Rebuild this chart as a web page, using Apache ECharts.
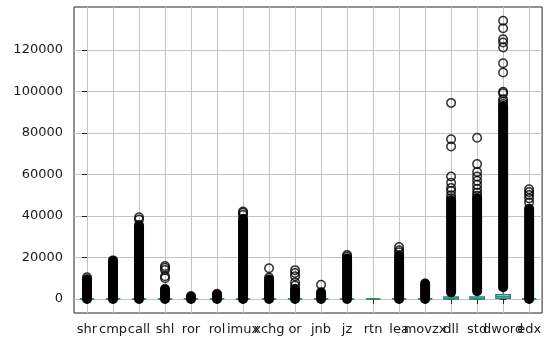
<!DOCTYPE html>
<html><head><meta charset="utf-8">
<script src="https://cdn.jsdelivr.net/npm/echarts@6/dist/echarts.min.js"></script>
<style>html,body{margin:0;padding:0;background:#fff}#c{width:544px;height:339px}</style>
</head><body><div id="c"></div><script>
const categories = ['shr','cmp','call','shl','ror','rol','imux','xchg','or','jnb','jz','rtn','lea','movzx','dll','std','dword','edx'];
const yTicks = [0, 20000, 40000, 60000, 80000, 100000, 120000];
// [lower whisker, Q1, median, Q3, upper whisker]
const boxStats = [
  [0,0,0,0,0],[0,0,0,0,0],[0,0,0,0,0],[0,0,0,0,0],[0,0,0,0,0],[0,0,0,0,0],
  [0,0,0,0,0],[0,0,0,0,0],[0,0,0,0,0],[0,0,0,0,0],[0,0,0,0,0],[0,0,0,0,0],
  [0,0,0,0,0],[0,0,0,0,0],
  [0,0,300,900,2200],[0,0,200,1000,2500],[0,300,1100,2100,4800],[0,0,0,0,0]
];
// dense runs of overlapping outlier circles (low, high) per category
const denseLow  = [0,0,0,0,0,0,0,0,0,0,0,null,0,0,3200,3800,5700,0];
const denseHigh = [9500,18600,35500,4800,900,2000,38500,9400,4800,3200,19500,null,21000,7500,47500,48500,93000,43500];
// distinct outlier circles per category
const outliers = [
  [10500],
  [],
  [38300, 39400],
  [15900, 15000, 14000, 11000, 10000],
  [1400],
  [2500],
  [40500, 41500, 42200],
  [10300, 14800],
  [13900, 12500, 11000, 8000, 6500],
  [6900],
  [20500, 21200],
  [],
  [22500, 23500, 25000],
  [],
  [94500, 77000, 73500, 59000, 56000, 53500, 52000, 50000, 48500],
  [77700, 65000, 61200, 59000, 57000, 55000, 53000, 51200, 49800],
  [134100, 130500, 125200, 123600, 121200, 113600, 109100, 99900, 99100, 96200, 95000, 94000],
  [52900, 51500, 50100, 48500, 46500]
];

const boxData = boxStats.map((s, i) => [i].concat(s));
const denseData = [];
denseLow.forEach((lo, i) => { if (lo !== null) denseData.push([i, lo, denseHigh[i]]); });
const outlierData = [];
outliers.forEach((arr, i) => arr.forEach(v => outlierData.push([i, v])));
const catPositions = categories.map((c, i) => i);

const chart = echarts.init(document.getElementById('c'), null, {renderer: 'canvas'});
const txt = '#1a1a1a';
chart.setOption({
  animation: false,
  backgroundColor: '#fff',
  grid: {left: 74, right: -1, top: 7, bottom: 26, show: true, borderColor: '#222', borderWidth: 1, backgroundColor: 'transparent'},
  xAxis: [{
    type: 'category', data: categories, boundaryGap: true,
    axisLine: {show: false},
    axisTick: {show: true, alignWithLabel: true, length: 5, lineStyle: {color: '#222'}},
    axisLabel: {interval: 0, hideOverlap: false, margin: 10, color: txt, fontFamily: 'DejaVu Sans', fontSize: 13},
    splitLine: {show: false}
  }, {
    type: 'value', min: -0.5, max: categories.length - 0.5, position: 'bottom',
    axisLine: {show: false},
    axisTick: {show: false, customValues: catPositions},
    axisLabel: {show: false, customValues: catPositions},
    splitLine: {show: true, lineStyle: {color: '#c4c4c4', width: 1}}
  }],
  yAxis: {
    type: 'value', min: -6750, max: 140700,
    axisLine: {show: false},
    axisTick: {show: true, length: 5, customValues: yTicks, lineStyle: {color: '#222'}},
    axisLabel: {customValues: yTicks, margin: 11, color: txt, fontFamily: 'DejaVu Sans', fontSize: 13, formatter: v => String(v)},
    splitLine: {show: true, lineStyle: {color: '#c4c4c4', width: 1}}
  },
  series: [
    {
      type: 'custom', data: boxData, z: 2,
      encode: {x: 0, y: [1, 2, 3, 4, 5]},
      renderItem: (params, api) => {
        const x = api.value(0);
        const lo = api.value(1), q1 = api.value(2), med = api.value(3), q3 = api.value(4), hi = api.value(5);
        const bw = api.size([1, 0])[0] * 0.55;
        const cx = api.coord([x, med])[0];
        const y = v => api.coord([x, v])[1];
        const blue = '#1f77b4';
        return {type: 'group', children: [
          {type: 'line', shape: {x1: cx, y1: y(q3), x2: cx, y2: y(hi)}, style: {stroke: blue, lineWidth: 1.3}},
          {type: 'line', shape: {x1: cx, y1: y(q1), x2: cx, y2: y(lo)}, style: {stroke: blue, lineWidth: 1.3}},
          {type: 'line', shape: {x1: cx - bw / 4, y1: y(hi), x2: cx + bw / 4, y2: y(hi)}, style: {stroke: '#000', lineWidth: 1.3}},
          {type: 'line', shape: {x1: cx - bw / 4, y1: y(lo), x2: cx + bw / 4, y2: y(lo)}, style: {stroke: '#000', lineWidth: 1.3}},
          {type: 'rect', shape: {x: cx - bw / 2, y: y(q3), width: bw, height: y(q1) - y(q3)}, style: {stroke: blue, fill: 'none', lineWidth: 1.5}},
          {type: 'line', shape: {x1: cx - bw / 2, y1: y(med), x2: cx + bw / 2, y2: y(med)}, style: {stroke: '#2ca02c', lineWidth: 1.5}}
        ]};
      }
    },
    {
      type: 'custom', data: denseData, z: 3,
      encode: {x: 0, y: [1, 2]},
      renderItem: (params, api) => {
        const p1 = api.coord([api.value(0), api.value(1)]);
        const p2 = api.coord([api.value(0), api.value(2)]);
        return {type: 'line', shape: {x1: p1[0], y1: p1[1], x2: p2[0], y2: p2[1]}, style: {stroke: '#000', lineWidth: 10, lineCap: 'round'}};
      }
    },
    {
      type: 'scatter', data: outlierData, z: 4,
      symbol: 'circle', symbolSize: 8.5,
      itemStyle: {color: 'rgba(0,0,0,0)', borderColor: '#000', borderWidth: 1.5}
    }
  ]
});
</script></body></html>
